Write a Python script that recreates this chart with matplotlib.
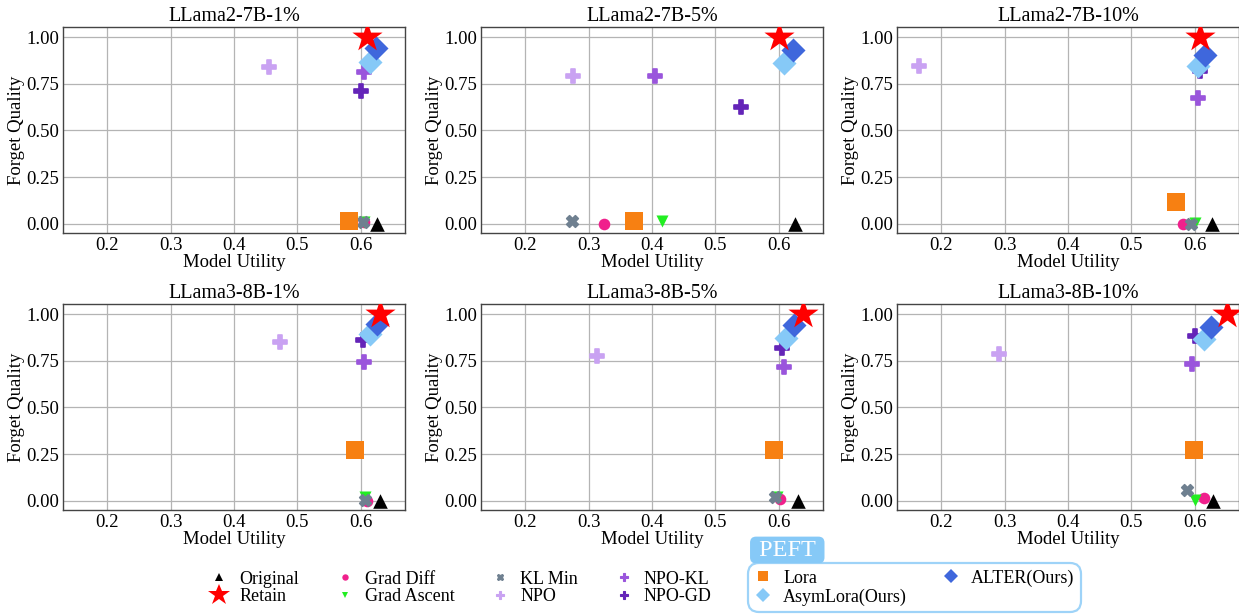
import matplotlib
matplotlib.use("Agg")
import matplotlib.pyplot as plt
from matplotlib.lines import Line2D

plt.rcParams['font.family'] = ['Liberation Serif', 'DejaVu Serif']

titles = ['LLama2-7B-1%', 'LLama2-7B-5%', 'LLama2-7B-10%',
          'LLama3-8B-1%', 'LLama3-8B-5%', 'LLama3-8B-10%']

methods = ['Original', 'Retain', 'Grad Diff', 'Grad Ascent', 'KL Min', 'NPO',
           'NPO-KL', 'NPO-GD', 'Lora', 'AsymLora(Ours)', 'ALTER(Ours)']

# (model utility, forget quality) per panel, in the order of `methods`
utility = [
    [0.626, 0.610, 0.605, 0.605, 0.603, 0.456, 0.605, 0.601, 0.581, 0.614, 0.624],
    [0.625, 0.601, 0.324, 0.416, 0.273, 0.275, 0.405, 0.540, 0.371, 0.608, 0.622],
    [0.627, 0.609, 0.582, 0.600, 0.594, 0.164, 0.606, 0.608, 0.571, 0.606, 0.616],
    [0.630, 0.630, 0.610, 0.607, 0.607, 0.472, 0.606, 0.604, 0.591, 0.614, 0.626],
    [0.630, 0.638, 0.602, 0.597, 0.594, 0.313, 0.608, 0.605, 0.592, 0.612, 0.624],
    [0.629, 0.651, 0.615, 0.600, 0.588, 0.291, 0.595, 0.601, 0.599, 0.614, 0.625],
]
quality = [
    [0.000, 1.000, 0.010, 0.010, 0.010, 0.843, 0.814, 0.712, 0.012, 0.868, 0.943],
    [0.000, 1.000, 0.000, 0.015, 0.015, 0.793, 0.793, 0.627, 0.015, 0.860, 0.930],
    [0.000, 1.000, 0.000, 0.005, 0.000, 0.845, 0.673, 0.820, 0.115, 0.845, 0.905],
    [0.000, 1.000, 0.000, 0.020, 0.005, 0.849, 0.745, 0.860, 0.274, 0.895, 0.950],
    [0.000, 1.000, 0.010, 0.020, 0.020, 0.778, 0.715, 0.820, 0.274, 0.875, 0.940],
    [0.000, 1.000, 0.015, 0.005, 0.057, 0.785, 0.735, 0.885, 0.274, 0.865, 0.933],
]

styles = {
    'Original':       dict(marker='^', color='black', s=110, z=4),
    'Retain':         dict(marker='*', color='red', s=520, z=9),
    'Grad Diff':      dict(marker='o', color='#f0208c', s=70, z=4),
    'Grad Ascent':    dict(marker='v', color='#22ee22', s=75, z=4),
    'KL Min':         dict(marker='X', color='#6f8090', s=70, z=4),
    'NPO':            dict(marker='P', color='#c9a2f2', s=95, z=4),
    'NPO-KL':         dict(marker='P', color='#9a55dc', s=95, z=4),
    'NPO-GD':         dict(marker='P', color='#6424b8', s=95, z=4),
    'Lora':           dict(marker='s', color='#f78012', s=170, z=5),
    'AsymLora(Ours)': dict(marker='D', color='#86c9f7', s=150, z=6),
    'ALTER(Ours)':    dict(marker='D', color='#3f67dc', s=150, z=7),
}

fig = plt.figure(figsize=(12.39, 6.14), dpi=100)
W, H = 1239, 614
lefts = [63, 481, 897]
tops = [27, 304]
aw, ah = 342, 206

for i, title in enumerate(titles):
    r, c = divmod(i, 3)
    ax = fig.add_axes([lefts[c] / W, 1 - (tops[r] + ah) / H, aw / W, ah / H])
    for j, m in enumerate(methods):
        st = styles[m]
        lw = 1.2 if st['marker'] in ('P', 'X') else 0
        ax.scatter(utility[i][j], quality[i][j], marker=st['marker'], c=st['color'],
                   s=st['s'], zorder=st['z'], linewidths=lw, edgecolors=st['color'])
    ax.set_xlim(0.13, 0.67)
    ax.set_ylim(-0.05, 1.055)
    ax.set_xticks([0.2, 0.3, 0.4, 0.5, 0.6])
    ax.set_yticks([0.0, 0.25, 0.5, 0.75, 1.0])
    ax.set_yticklabels(['0.00', '0.25', '0.50', '0.75', '1.00'])
    ax.grid(True, color='#b4b4b4', linewidth=0.9, zorder=0)
    ax.set_axisbelow(True)
    ax.tick_params(labelsize=13.5, length=0, pad=3)
    for sp in ax.spines.values():
        sp.set_color('#444444')
        sp.set_linewidth(1.0)
    ax.set_title(title, fontsize=14.5, pad=4)
    ax.set_xlabel('Model Utility', fontsize=13.5, labelpad=0)
    ax.set_ylabel('Forget Quality', fontsize=13.5, labelpad=1)


def handle(m):
    st = styles[m]
    ms = st['s'] ** 0.5 * (0.55 if m != 'Retain' else 0.72)
    mew = 0.8 if st['marker'] in ('P', 'X') else 0
    return Line2D([], [], linestyle='none', marker=st['marker'], color=st['color'],
                  markeredgewidth=mew, markersize=ms)


base = ['Original', 'Retain', 'Grad Diff', 'Grad Ascent', 'KL Min', 'NPO', 'NPO-KL', 'NPO-GD']
leg1 = fig.legend([handle(m) for m in base], base, ncol=4, loc='center',
                  bbox_to_anchor=(461 / W, 1 - 588 / H), frameon=False, fontsize=13,
                  handlelength=1.0, handletextpad=0.6, columnspacing=2.05,
                  labelspacing=0.05, borderaxespad=0)

peft = ['Lora', 'AsymLora(Ours)', 'ALTER(Ours)']
leg2 = fig.legend([handle(m) for m in peft], peft, ncol=2, loc='lower left',
                  bbox_to_anchor=(748 / W, 2 / H), frameon=True, fancybox=True,
                  fontsize=13, handlelength=1.0, handletextpad=0.6,
                  columnspacing=1.95, labelspacing=0.1, borderpad=0.35,
                  borderaxespad=0)
fr = leg2.get_frame()
fr.set_edgecolor('#86c9f7')
fr.set_linewidth(1.6)
fr.set_facecolor('white')
fr.set_boxstyle('round,pad=0,rounding_size=0.6')

fig.canvas.draw()
bb = leg2.get_window_extent().transformed(fig.transFigure.inverted())
fig.text(bb.x0 + 0.004, bb.y1 + 0.004, ' PEFT ', color='white', fontsize=17.5,
         ha='left', va='bottom',
         bbox=dict(boxstyle='round,pad=0.12,rounding_size=0.25', facecolor='#86c9f7',
                   edgecolor='none'))

fig.savefig('out.png', dpi=100)
